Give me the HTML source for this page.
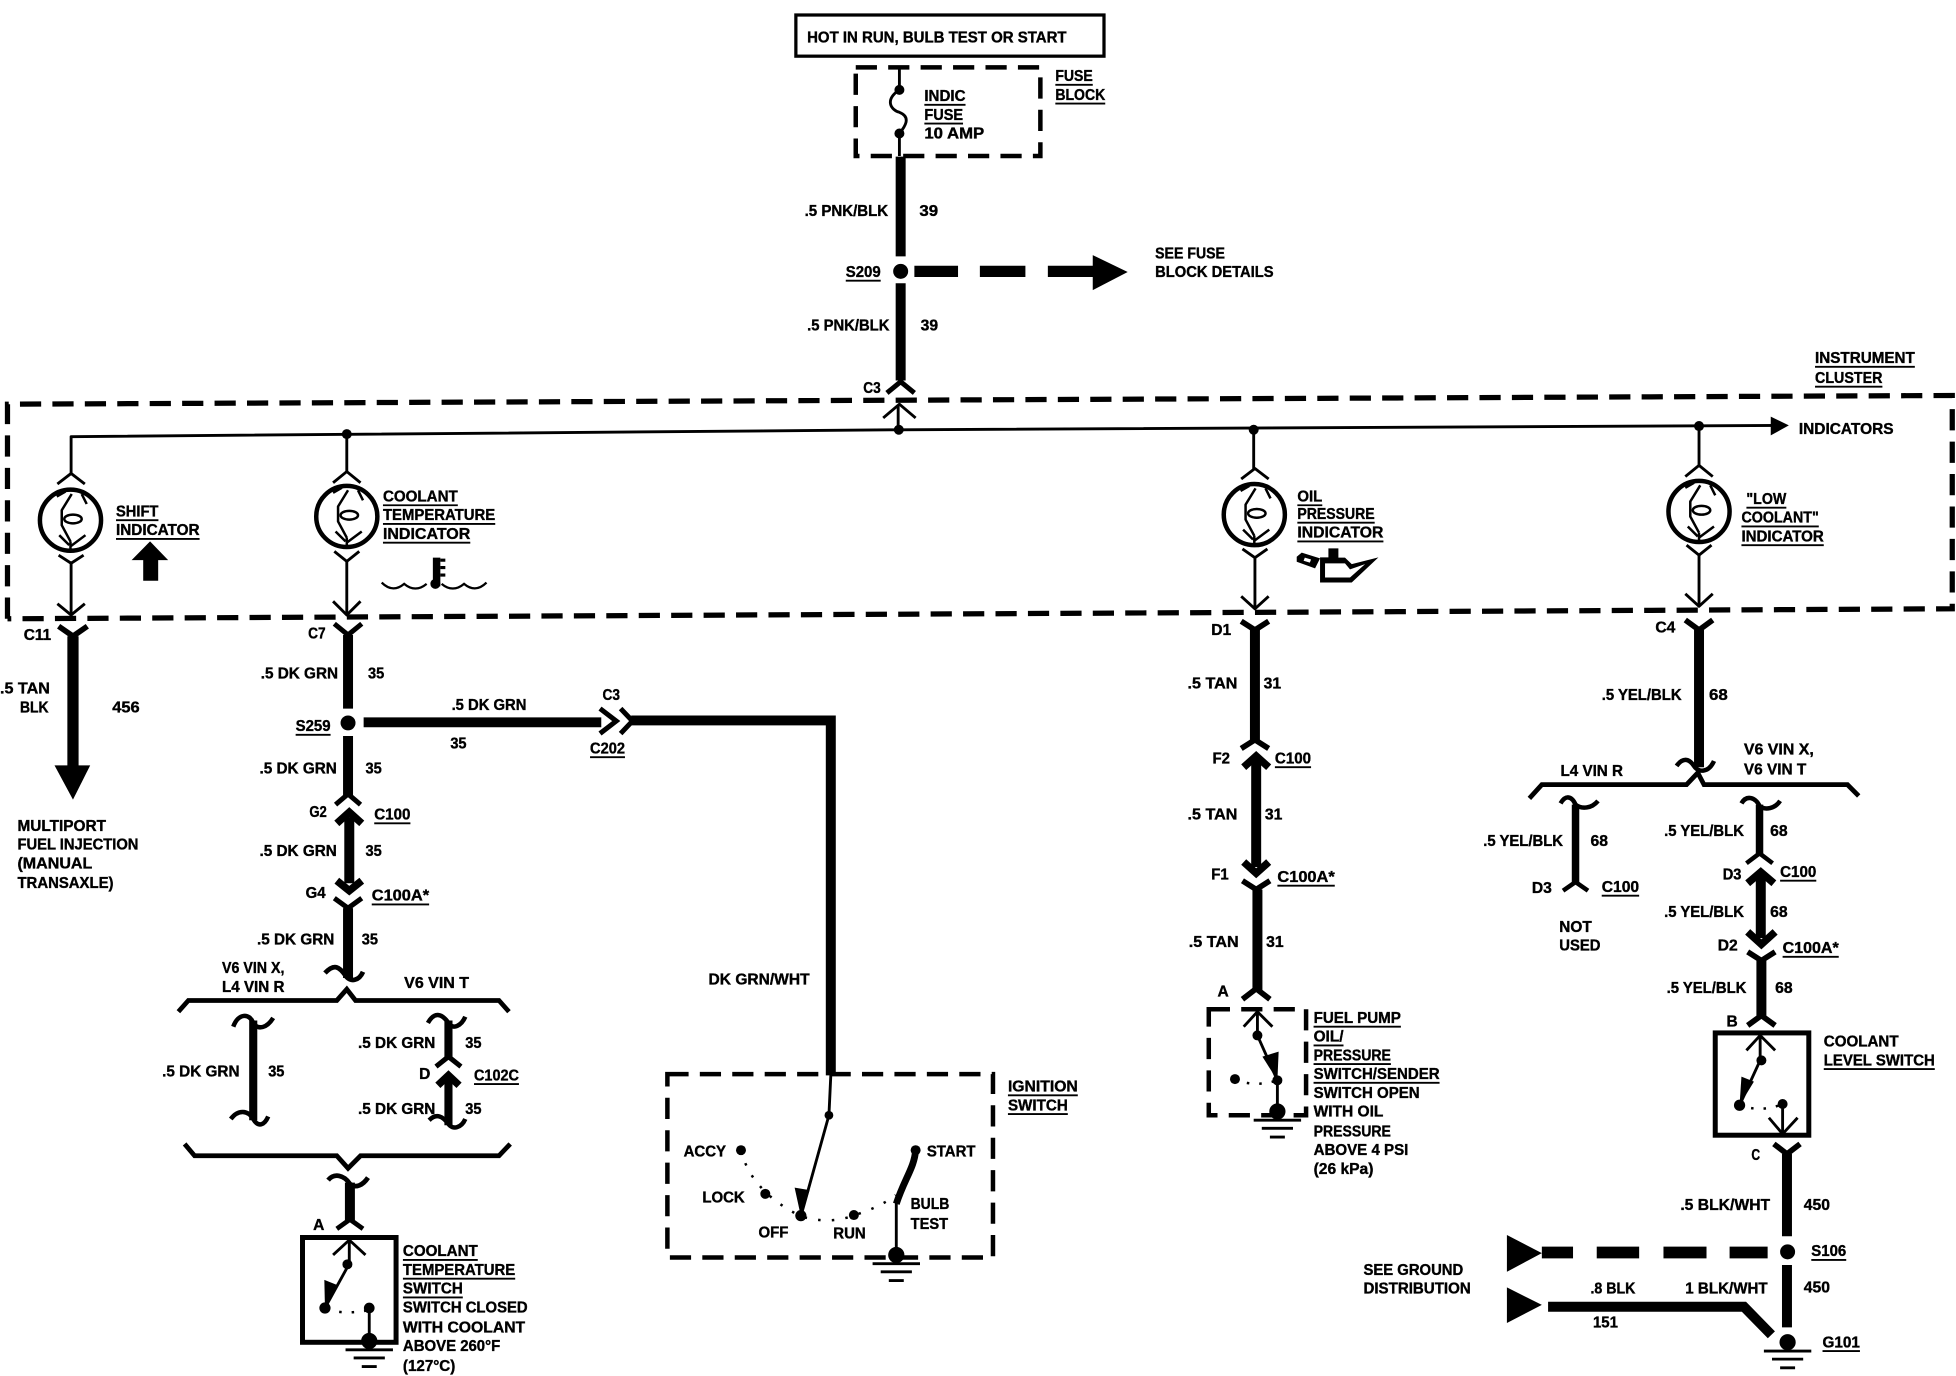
<!DOCTYPE html>
<html><head><meta charset="utf-8"><style>
html,body{margin:0;padding:0;background:#fff}
svg{display:block}
text{font-family:"Liberation Sans",sans-serif;font-weight:bold;font-size:12.5px;fill:#000;stroke:#000;stroke-width:.3px}
</style></head><body>
<svg width="1956" height="1376" viewBox="0 0 1568 1103" xmlns="http://www.w3.org/2000/svg">
<defs>
<g id="gauge" fill="none" stroke="#000" stroke-linejoin="round">
<ellipse cx="0" cy="0" rx="24.500" ry="24.500" stroke-width="3.600"/>
<path d="M1-21L-7-8V4L0 17M-11-19L-4-23M9-21L13-13M-9 12L-1 20M12 12L0 21M0 17V23" stroke-width="2"/>
<ellipse cx="2" cy="-1" rx="7" ry="3.500" stroke-width="2"/>
</g>
<g id="gnd" stroke="#000" stroke-width="2.300"><path d="M-19 7H19M-12.500 13.500H12.500M-6 20.500H6"/><circle cx="0" cy="0" r="6.500" fill="#000" stroke="none"/></g>
</defs>
<rect width="1568" height="1103" fill="#fff"/>

<!-- boxes -->
<rect x="638" y="12" width="247" height="33" fill="none" stroke="#000" stroke-width="2.600"/>
<g fill="none" stroke="#000" stroke-width="3.600" stroke-dasharray="17 9">
<rect x="686" y="54" width="148" height="71"/>
<path d="M6 496V324L1565 317V488L6 496" stroke-width="4.200"/>
<rect x="535" y="861" width="261" height="147"/>
<rect x="969" y="809" width="78" height="85"/>
</g>
<rect x="242.500" y="992" width="75" height="84" fill="none" stroke="#000" stroke-width="4"/>
<rect x="1375" y="828" width="75" height="82" fill="none" stroke="#000" stroke-width="4"/>

<!-- thin wires -->
<g fill="none" stroke="#000" stroke-width="2.300" stroke-linejoin="round">
<path d="M57 380V350L720 344.500L1425 341"/>
<path d="M278 348V378M720 344.500V325M1005 344.500V376M1362 341.500V374"/>
<path d="M57 450V492M278 449V492M1006 446V487M1362 444V485"/>
<path d="M46 388L57 379.500L68 388M267 387L278 378L289 387M995 384L1006 375.500L1017 384M1351 382L1362 373L1373 382"/>
<path d="M47 445L57 451.500L67 445M268 442L278 450L288 442M996 440L1006 447L1016 440M1352 437L1362 445L1372 437"/>
<path d="M46 484L57 493L68 484M267 482L278 493L289 482M995 478L1006 488L1017 478M1351 476L1362 486L1373 476"/>
<path d="M708 335L721 324L734 335"/>
<path d="M721 54V72M721 72C709 80 714 88 721 90C731 94 725 102 721 107M721 107V125"/>
<path d="M666 862L664.500 894L642 975"/>
<path d="M718.500 962V1005"/>
<path d="M267 1006L280 994L293 1006M280 994V1013L260.500 1048.500"/>
<path d="M296 1048.500V1072"/>
<path d="M997 823L1008 811L1020 823M1008 811V830L1024 866V890"/>
<path d="M1400 842L1411 830L1423 842M1411 830V850L1394.500 886"/>
<path d="M1429 885V908M1418 896L1429 909L1441 896"/>
</g>
<path d="M1419.500 334L1434 341L1419.500 349Z"/>

<!-- dots -->
<g fill="#000">
<circle cx="278" cy="348" r="4"/><circle cx="720.500" cy="344.500" r="4"/><circle cx="1005" cy="344.500" r="4"/><circle cx="1362" cy="341.500" r="4"/>
<circle cx="721" cy="72" r="4"/><circle cx="721" cy="107" r="4"/>
<circle cx="722" cy="217.500" r="6"/><circle cx="279" cy="579.500" r="6"/><circle cx="1433" cy="1003.500" r="6"/>
<circle cx="664.500" cy="894" r="3.500"/><circle cx="594" cy="922" r="4"/><circle cx="613.500" cy="957" r="4"/><circle cx="642" cy="974.500" r="4.500"/><circle cx="684.500" cy="974" r="4"/><circle cx="734" cy="922" r="4"/>
<circle cx="278.500" cy="1013.500" r="4"/><circle cx="260.500" cy="1048.500" r="4.500"/><circle cx="296" cy="1048.500" r="4.300"/>
<circle cx="1008" cy="830" r="4"/><circle cx="990" cy="865" r="4"/><circle cx="1024" cy="866" r="4"/>
<circle cx="1412" cy="850" r="4"/><circle cx="1394.500" cy="886" r="4.500"/><circle cx="1429" cy="885" r="4"/>
<path d="M649 954L642 975L637 952Z"/><path d="M270 1030L260.500 1048.500L260 1026Z"/><path d="M1025 843L1024 866L1012 847Z"/><path d="M1406 867L1394.500 886L1396 863Z"/>
</g>
<path d="M594 922Q602 955 642 975Q665 982 685 974Q705 968 718 958" fill="none" stroke="#000" stroke-width="2" stroke-dasharray="2 9"/>
<path d="M262 1050Q280 1054 296 1050M990 865Q1005 872 1024 866M1394 886Q1412 892 1429 885" fill="none" stroke="#000" stroke-width="2" stroke-dasharray="2 8"/>

<!-- gauges -->
<use href="#gauge" x="56.500" y="417"/><use href="#gauge" x="278" y="414"/><use href="#gauge" x="1005.500" y="412.500"/><use href="#gauge" x="1362" y="410"/>

<!-- grounds -->
<use href="#gnd" x="296" y="1075"/><use href="#gnd" x="718.500" y="1006"/><use href="#gnd" x="1024" y="891"/><use href="#gnd" x="1433" y="1076"/>

<!-- thick wires -->
<g fill="none" stroke="#000" stroke-width="8" stroke-linejoin="miter">
<path d="M722 125.500V205.500M722 227V305"/>
<path d="M711 315L722 306L733 315" stroke-width="4"/>
<path d="M733 217.500H768M785.500 217.500H822M840 217.500H880" stroke-width="9"/>
<path d="M58.500 510V618" stroke-width="9"/>
<path d="M47 502L58.500 510L70 502" stroke-width="4.500"/>
<path d="M279 509V568M279 590V638M280 655V708M279 728V784"/>
<path d="M291.500 579H482" stroke-width="8"/>
<path d="M506 577.500H666V862" stroke-width="8"/>
<path d="M268 500L279 509L290 500M269 645L279 636.500L289 645M268 720L279 728L290 720M481 568L494 578L481 588M497.500 568L507 578L497.500 588" stroke-width="4"/>
<path d="M270 660L280 651L290 660M270 706L280 714L290 706" stroke-width="6"/>
<path d="M260.500 780C268 772 272 775 277 782C281 788 288 786 291 779" stroke-width="3.800"/>
<path d="M143 811L151 802H270L278 793L285 802H400L408 811" stroke-width="3.800"/>
<path d="M203 818V898" stroke-width="6.500"/>
<path d="M187 823C191 812 200 812 203 820C207 826 214 824 219 816M185 897C191 889 199 890 203 897C207 904 212 902 215 895" stroke-width="3.600"/>
<path d="M359.500 818V848M359.500 864V902" stroke-width="6.500"/>
<path d="M343 820C348 811 354 812 359.500 820C363 826 370 822 373 815M344 898C350 892 355 895 359.500 901C363 906 370 904 373 897" stroke-width="3.600"/>
<path d="M349.500 855L359.500 847L369.500 855" stroke-width="4"/>
<path d="M351 870L359.500 862L368 870" stroke-width="6"/>
<path d="M148 917L156 926.500H270L279 936.500L289 926.500H400L409 917" stroke-width="3.800"/>
<path d="M280.500 948V978"/>
<path d="M263 946C268 940 276 942 280.500 949C285 953 291 950 295 944M270 985L280.500 977.500L291 985" stroke-width="3.800"/>
<path d="M734 922C733 936 725 945 718.500 965" stroke-width="5.500"/>
<path d="M1006 505V593M1007 610V695M1008 713V794"/>
<path d="M995 498L1006 505L1017 498M995 600L1006 593L1017 600M996 706L1007 713L1018 706M996 801L1007 792.500L1018 801" stroke-width="4.500"/>
<path d="M997 615L1007 606L1017 615M997 691L1007 700L1017 691" stroke-width="6"/>
<path d="M1362 505V615"/>
<path d="M1351 497L1362 505L1373 497" stroke-width="4.500"/>
<path d="M1344 614C1349 607 1354 608 1358 614C1362 620 1370 619 1374 610" stroke-width="3.600"/>
<path d="M1226 640L1236 629H1352L1361 619.500L1366 629H1481L1490 638" stroke-width="3.800"/>
<path d="M1263 645V708" stroke-width="6"/>
<path d="M1251 644C1255 637 1260 638 1263 645C1268 649 1276 648 1281 642M1253 714L1263 707L1273 714" stroke-width="3.600"/>
<path d="M1410.500 645V685" stroke-width="6"/>
<path d="M1396 644C1400 637 1407 639 1410.500 646C1415 650 1423 648 1427 642M1400 692L1410.500 684L1421 692" stroke-width="3.600"/>
<path d="M1411.500 703V752"/>
<path d="M1401 708L1411.500 699L1422 708M1401 747L1412 757L1423 747" stroke-width="6"/>
<path d="M1412 770V814"/>
<path d="M1401 763L1412 770L1423 763M1401 822L1412 814L1423 822" stroke-width="4.500"/>
<path d="M1432.500 925V991M1432.500 1014V1064"/>
<path d="M1422 917L1432.500 925L1443 917" stroke-width="4.500"/>
<path d="M1417 1004H1386.500M1368 1004H1333.500M1314 1004H1280M1261 1004H1236" stroke-width="9.400"/>
<path d="M1241 1047.500H1398L1420 1070" stroke-width="8"/>
</g>

<!-- arrowheads -->
<g fill="#000">
<path d="M876 204.500L904 218L876 232.500Z"/>
<path d="M43.700 613.500L58.500 641L72.300 613.500Z"/>
<path d="M1208 990L1236 1004.500L1208 1019.500Z"/>
<path d="M1208 1032L1236 1046L1208 1060.500Z"/>
<path d="M120.300 434L134.800 449H126.800V465.500H114.800V449H105.500Z"/>
<rect x="347" y="447" width="6" height="23"/><circle cx="349" cy="468" r="4"/>
</g>
<path d="M306 467C312 473 318 473 324 468C330 473 336 473 342 468M354 468C360 473 366 473 372 468C378 473 384 473 390 467" fill="none" stroke="#000" stroke-width="1.800"/>
<path d="M353 449H357M353 455H357M353 461H357" stroke="#000" stroke-width="2.500"/>
<!-- oil can -->
<path fill="#000" d="M1039.500 446.300L1043.500 443L1058.200 447.600L1054.200 455.600L1039.500 450.300ZM1064.900 439.600H1072.900V447H1078.200L1083.600 452.200L1105 446.800L1083.600 466.900H1058.200V446.800H1064.900Z"/>
<path fill="#fff" d="M1062.200 451.600H1078.200L1082.200 456.400L1094.300 452.200L1082.200 462.900H1062.200ZM1046 447L1051 448.500L1050 451L1045 449.500Z"/>

<!-- underlines -->
<path fill="none" stroke="#000" stroke-width="1.500" d="M741 84h33M741 99h31M846 68h30M846 83h40M678 225h28M1455 294h80M1455 310h54M93 417h34M93 432h67M307 405h60M307 420h90M307 435h70M1040 405h20M1040 419h62M1040 434h69M1400 407h32M1396 422h62M1396 437h66M237 589h28M473 607h28M300 660h29M298 725h46M380 869h36M323 1010h60M323 1025h90M323 1040h48M808 878h56M808 893h48M1022 615h29M1024 710h46M1053 823h70M1053 838h24M1053 853h62M1053 868h101M1284 718h30M1427 706h29M1429 767h45M1462 857h89M1452 1010h28M1461 1083h30"/>

<!-- labels -->
<text x="647" y="34" textLength="208" lengthAdjust="spacingAndGlyphs">HOT IN RUN, BULB TEST OR START</text>
<text x="741" y="81" textLength="33" lengthAdjust="spacingAndGlyphs">INDIC</text>
<text x="741" y="96" textLength="31" lengthAdjust="spacingAndGlyphs">FUSE</text>
<text x="741" y="111" textLength="48" lengthAdjust="spacingAndGlyphs">10 AMP</text>
<text x="846" y="65" textLength="30" lengthAdjust="spacingAndGlyphs">FUSE</text>
<text x="846" y="80" textLength="40" lengthAdjust="spacingAndGlyphs">BLOCK</text>
<text x="645" y="173" textLength="67" lengthAdjust="spacingAndGlyphs">.5 PNK/BLK</text>
<text x="737" y="173" textLength="15" lengthAdjust="spacingAndGlyphs">39</text>
<text x="678" y="222" textLength="28" lengthAdjust="spacingAndGlyphs">S209</text>
<text x="926" y="207" textLength="56" lengthAdjust="spacingAndGlyphs">SEE FUSE</text>
<text x="926" y="222" textLength="95" lengthAdjust="spacingAndGlyphs">BLOCK DETAILS</text>
<text x="647" y="265" textLength="66" lengthAdjust="spacingAndGlyphs">.5 PNK/BLK</text>
<text x="738" y="265" textLength="14" lengthAdjust="spacingAndGlyphs">39</text>
<text x="692" y="315" textLength="14" lengthAdjust="spacingAndGlyphs">C3</text>
<text x="1455" y="291" textLength="80" lengthAdjust="spacingAndGlyphs">INSTRUMENT</text>
<text x="1455" y="307" textLength="54" lengthAdjust="spacingAndGlyphs">CLUSTER</text>
<text x="1442" y="348" textLength="76" lengthAdjust="spacingAndGlyphs">INDICATORS</text>
<text x="93" y="414" textLength="34" lengthAdjust="spacingAndGlyphs">SHIFT</text>
<text x="93" y="429" textLength="67" lengthAdjust="spacingAndGlyphs">INDICATOR</text>
<text x="307" y="402" textLength="60" lengthAdjust="spacingAndGlyphs">COOLANT</text>
<text x="307" y="417" textLength="90" lengthAdjust="spacingAndGlyphs">TEMPERATURE</text>
<text x="307" y="432" textLength="70" lengthAdjust="spacingAndGlyphs">INDICATOR</text>
<text x="1040" y="402" textLength="20" lengthAdjust="spacingAndGlyphs">OIL</text>
<text x="1040" y="416" textLength="62" lengthAdjust="spacingAndGlyphs">PRESSURE</text>
<text x="1040" y="431" textLength="69" lengthAdjust="spacingAndGlyphs">INDICATOR</text>
<text x="1400" y="404" textLength="32" lengthAdjust="spacingAndGlyphs">"LOW</text>
<text x="1396" y="419" textLength="62" lengthAdjust="spacingAndGlyphs">COOLANT"</text>
<text x="1396" y="434" textLength="66" lengthAdjust="spacingAndGlyphs">INDICATOR</text>
<text x="19" y="513" textLength="22" lengthAdjust="spacingAndGlyphs">C11</text>
<text x="247" y="512" textLength="14" lengthAdjust="spacingAndGlyphs">C7</text>
<text x="971" y="509" textLength="16" lengthAdjust="spacingAndGlyphs">D1</text>
<text x="1327" y="507" textLength="16" lengthAdjust="spacingAndGlyphs">C4</text>
<text x="0" y="556" textLength="40" lengthAdjust="spacingAndGlyphs">.5 TAN</text>
<text x="16" y="571" textLength="23" lengthAdjust="spacingAndGlyphs">BLK</text>
<text x="90" y="571" textLength="22" lengthAdjust="spacingAndGlyphs">456</text>
<text x="209" y="544" textLength="62" lengthAdjust="spacingAndGlyphs">.5 DK GRN</text>
<text x="295" y="544" textLength="13" lengthAdjust="spacingAndGlyphs">35</text>
<text x="237" y="586" textLength="28" lengthAdjust="spacingAndGlyphs">S259</text>
<text x="362" y="569" textLength="60" lengthAdjust="spacingAndGlyphs">.5 DK GRN</text>
<text x="361" y="600" textLength="13" lengthAdjust="spacingAndGlyphs">35</text>
<text x="483" y="561" textLength="14" lengthAdjust="spacingAndGlyphs">C3</text>
<text x="473" y="604" textLength="28" lengthAdjust="spacingAndGlyphs">C202</text>
<text x="208" y="620" textLength="62" lengthAdjust="spacingAndGlyphs">.5 DK GRN</text>
<text x="293" y="620" textLength="13" lengthAdjust="spacingAndGlyphs">35</text>
<text x="248" y="655" textLength="14" lengthAdjust="spacingAndGlyphs">G2</text>
<text x="300" y="657" textLength="29" lengthAdjust="spacingAndGlyphs">C100</text>
<text x="208" y="686" textLength="62" lengthAdjust="spacingAndGlyphs">.5 DK GRN</text>
<text x="293" y="686" textLength="13" lengthAdjust="spacingAndGlyphs">35</text>
<text x="245" y="720" textLength="16" lengthAdjust="spacingAndGlyphs">G4</text>
<text x="298" y="722" textLength="46" lengthAdjust="spacingAndGlyphs">C100A*</text>
<text x="206" y="757" textLength="62" lengthAdjust="spacingAndGlyphs">.5 DK GRN</text>
<text x="290" y="757" textLength="13" lengthAdjust="spacingAndGlyphs">35</text>
<text x="178" y="780" textLength="50" lengthAdjust="spacingAndGlyphs">V6 VIN X,</text>
<text x="178" y="795" textLength="50" lengthAdjust="spacingAndGlyphs">L4 VIN R</text>
<text x="324" y="792" textLength="52" lengthAdjust="spacingAndGlyphs">V6 VIN T</text>
<text x="130" y="863" textLength="62" lengthAdjust="spacingAndGlyphs">.5 DK GRN</text>
<text x="215" y="863" textLength="13" lengthAdjust="spacingAndGlyphs">35</text>
<text x="287" y="840" textLength="62" lengthAdjust="spacingAndGlyphs">.5 DK GRN</text>
<text x="373" y="840" textLength="13" lengthAdjust="spacingAndGlyphs">35</text>
<text x="336" y="865" textLength="9" lengthAdjust="spacingAndGlyphs">D</text>
<text x="380" y="866" textLength="36" lengthAdjust="spacingAndGlyphs">C102C</text>
<text x="287" y="893" textLength="62" lengthAdjust="spacingAndGlyphs">.5 DK GRN</text>
<text x="373" y="893" textLength="13" lengthAdjust="spacingAndGlyphs">35</text>
<text x="251" y="986" textLength="9" lengthAdjust="spacingAndGlyphs">A</text>
<text x="323" y="1007" textLength="60" lengthAdjust="spacingAndGlyphs">COOLANT</text>
<text x="323" y="1022" textLength="90" lengthAdjust="spacingAndGlyphs">TEMPERATURE</text>
<text x="323" y="1037" textLength="48" lengthAdjust="spacingAndGlyphs">SWITCH</text>
<text x="323" y="1052" textLength="100" lengthAdjust="spacingAndGlyphs">SWITCH CLOSED</text>
<text x="323" y="1068" textLength="98" lengthAdjust="spacingAndGlyphs">WITH COOLANT</text>
<text x="323" y="1083" textLength="78" lengthAdjust="spacingAndGlyphs">ABOVE 260°F</text>
<text x="323" y="1099" textLength="42" lengthAdjust="spacingAndGlyphs">(127°C)</text>
<text x="14" y="666" textLength="71" lengthAdjust="spacingAndGlyphs">MULTIPORT</text>
<text x="14" y="681" textLength="97" lengthAdjust="spacingAndGlyphs">FUEL INJECTION</text>
<text x="14" y="696" textLength="60" lengthAdjust="spacingAndGlyphs">(MANUAL</text>
<text x="14" y="712" textLength="77" lengthAdjust="spacingAndGlyphs">TRANSAXLE)</text>
<text x="568" y="789" textLength="81" lengthAdjust="spacingAndGlyphs">DK GRN/WHT</text>
<text x="808" y="875" textLength="56" lengthAdjust="spacingAndGlyphs">IGNITION</text>
<text x="808" y="890" textLength="48" lengthAdjust="spacingAndGlyphs">SWITCH</text>
<text x="548" y="927" textLength="34" lengthAdjust="spacingAndGlyphs">ACCY</text>
<text x="563" y="964" textLength="34" lengthAdjust="spacingAndGlyphs">LOCK</text>
<text x="608" y="992" textLength="24" lengthAdjust="spacingAndGlyphs">OFF</text>
<text x="668" y="993" textLength="26" lengthAdjust="spacingAndGlyphs">RUN</text>
<text x="743" y="927" textLength="39" lengthAdjust="spacingAndGlyphs">START</text>
<text x="730" y="969" textLength="31" lengthAdjust="spacingAndGlyphs">BULB</text>
<text x="730" y="985" textLength="30" lengthAdjust="spacingAndGlyphs">TEST</text>
<text x="952" y="552" textLength="40" lengthAdjust="spacingAndGlyphs">.5 TAN</text>
<text x="1013" y="552" textLength="14" lengthAdjust="spacingAndGlyphs">31</text>
<text x="972" y="612" textLength="14" lengthAdjust="spacingAndGlyphs">F2</text>
<text x="1022" y="612" textLength="29" lengthAdjust="spacingAndGlyphs">C100</text>
<text x="952" y="657" textLength="40" lengthAdjust="spacingAndGlyphs">.5 TAN</text>
<text x="1014" y="657" textLength="14" lengthAdjust="spacingAndGlyphs">31</text>
<text x="971" y="705" textLength="14" lengthAdjust="spacingAndGlyphs">F1</text>
<text x="1024" y="707" textLength="46" lengthAdjust="spacingAndGlyphs">C100A*</text>
<text x="953" y="759" textLength="40" lengthAdjust="spacingAndGlyphs">.5 TAN</text>
<text x="1015" y="759" textLength="14" lengthAdjust="spacingAndGlyphs">31</text>
<text x="976" y="799" textLength="9" lengthAdjust="spacingAndGlyphs">A</text>
<text x="1053" y="820" textLength="70" lengthAdjust="spacingAndGlyphs">FUEL PUMP</text>
<text x="1053" y="835" textLength="24" lengthAdjust="spacingAndGlyphs">OIL/</text>
<text x="1053" y="850" textLength="62" lengthAdjust="spacingAndGlyphs">PRESSURE</text>
<text x="1053" y="865" textLength="101" lengthAdjust="spacingAndGlyphs">SWITCH/SENDER</text>
<text x="1053" y="880" textLength="85" lengthAdjust="spacingAndGlyphs">SWITCH OPEN</text>
<text x="1053" y="895" textLength="56" lengthAdjust="spacingAndGlyphs">WITH OIL</text>
<text x="1053" y="911" textLength="62" lengthAdjust="spacingAndGlyphs">PRESSURE</text>
<text x="1053" y="926" textLength="76" lengthAdjust="spacingAndGlyphs">ABOVE 4 PSI</text>
<text x="1053" y="941" textLength="48" lengthAdjust="spacingAndGlyphs">(26 kPa)</text>
<text x="1284" y="561" textLength="64" lengthAdjust="spacingAndGlyphs">.5 YEL/BLK</text>
<text x="1370" y="561" textLength="15" lengthAdjust="spacingAndGlyphs">68</text>
<text x="1251" y="622" textLength="50" lengthAdjust="spacingAndGlyphs">L4 VIN R</text>
<text x="1398" y="605" textLength="56" lengthAdjust="spacingAndGlyphs">V6 VIN X,</text>
<text x="1398" y="621" textLength="50" lengthAdjust="spacingAndGlyphs">V6 VIN T</text>
<text x="1189" y="678" textLength="64" lengthAdjust="spacingAndGlyphs">.5 YEL/BLK</text>
<text x="1275" y="678" textLength="14" lengthAdjust="spacingAndGlyphs">68</text>
<text x="1228" y="716" textLength="16" lengthAdjust="spacingAndGlyphs">D3</text>
<text x="1284" y="715" textLength="30" lengthAdjust="spacingAndGlyphs">C100</text>
<text x="1250" y="747" textLength="26" lengthAdjust="spacingAndGlyphs">NOT</text>
<text x="1250" y="762" textLength="33" lengthAdjust="spacingAndGlyphs">USED</text>
<text x="1334" y="670" textLength="64" lengthAdjust="spacingAndGlyphs">.5 YEL/BLK</text>
<text x="1419" y="670" textLength="14" lengthAdjust="spacingAndGlyphs">68</text>
<text x="1381" y="705" textLength="15" lengthAdjust="spacingAndGlyphs">D3</text>
<text x="1427" y="703" textLength="29" lengthAdjust="spacingAndGlyphs">C100</text>
<text x="1334" y="735" textLength="64" lengthAdjust="spacingAndGlyphs">.5 YEL/BLK</text>
<text x="1419" y="735" textLength="14" lengthAdjust="spacingAndGlyphs">68</text>
<text x="1377" y="762" textLength="16" lengthAdjust="spacingAndGlyphs">D2</text>
<text x="1429" y="764" textLength="45" lengthAdjust="spacingAndGlyphs">C100A*</text>
<text x="1336" y="796" textLength="64" lengthAdjust="spacingAndGlyphs">.5 YEL/BLK</text>
<text x="1423" y="796" textLength="14" lengthAdjust="spacingAndGlyphs">68</text>
<text x="1384" y="823" textLength="9" lengthAdjust="spacingAndGlyphs">B</text>
<text x="1462" y="839" textLength="60" lengthAdjust="spacingAndGlyphs">COOLANT</text>
<text x="1462" y="854" textLength="89" lengthAdjust="spacingAndGlyphs">LEVEL SWITCH</text>
<text x="1404" y="930" textLength="7" lengthAdjust="spacingAndGlyphs">C</text>
<text x="1347" y="970" textLength="72" lengthAdjust="spacingAndGlyphs">.5 BLK/WHT</text>
<text x="1446" y="970" textLength="21" lengthAdjust="spacingAndGlyphs">450</text>
<text x="1452" y="1007" textLength="28" lengthAdjust="spacingAndGlyphs">S106</text>
<text x="1093" y="1022" textLength="80" lengthAdjust="spacingAndGlyphs">SEE GROUND</text>
<text x="1093" y="1037" textLength="86" lengthAdjust="spacingAndGlyphs">DISTRIBUTION</text>
<text x="1275" y="1037" textLength="36" lengthAdjust="spacingAndGlyphs">.8 BLK</text>
<text x="1351" y="1037" textLength="66" lengthAdjust="spacingAndGlyphs">1 BLK/WHT</text>
<text x="1446" y="1036" textLength="21" lengthAdjust="spacingAndGlyphs">450</text>
<text x="1277" y="1064" textLength="20" lengthAdjust="spacingAndGlyphs">151</text>
<text x="1461" y="1080" textLength="30" lengthAdjust="spacingAndGlyphs">G101</text>
</svg>
</body></html>
